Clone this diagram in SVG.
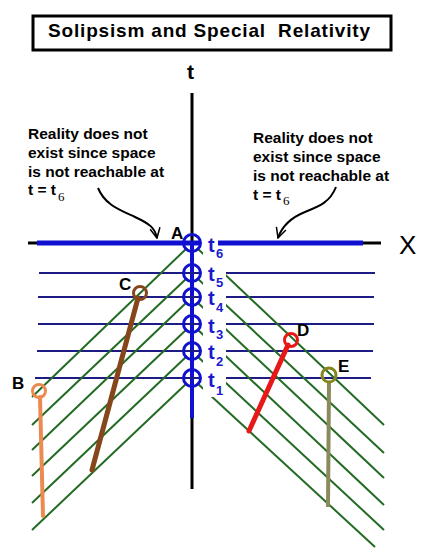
<svg xmlns="http://www.w3.org/2000/svg" width="427" height="555" viewBox="0 0 427 555">
<style>
text{font-family:"Liberation Sans",Arial,sans-serif}
.ann{font-size:15.5px;font-weight:bold;fill:#000}
.sub6{font-family:"Liberation Serif","Times New Roman",serif;font-size:13px;fill:#000}
.tl{font-size:20px;font-weight:bold;fill:#1a1acc}
.ts{font-size:13px;font-weight:bold;fill:#1a1acc}
.ev{font-size:17px;font-weight:bold;fill:#000}
.grid{stroke:#1c1c84;stroke-width:2;fill:none}
.cone{stroke:#236b23;stroke-width:2;fill:none}
.tc{stroke:#1010d0;stroke-width:3;fill:none}
.wb{fill:#fff;stroke:none}
</style>
<defs>
<marker id="v" viewBox="0 0 12 12" refX="11" refY="6" markerWidth="12" markerHeight="12" markerUnits="userSpaceOnUse" orient="auto">
<path d="M1,1 L11,6 L1,11" fill="none" stroke="#000" stroke-width="1.5"/>
</marker>
</defs>
<rect width="427" height="555" fill="#fff"/>
<g id="title">
<rect x="33" y="16" width="358" height="34" fill="#fff" stroke="#000" stroke-width="3"/>
<text x="48" y="37" font-size="19" font-weight="bold" textLength="322" lengthAdjust="spacing" xml:space="preserve">Solipsism and Special  Relativity</text>
</g>
<g id="axes">
<line x1="192" y1="93" x2="192" y2="243" stroke="#000" stroke-width="3"/>
<line x1="192" y1="243" x2="192" y2="418" stroke="#1010d0" stroke-width="4"/>
<line x1="192" y1="418" x2="192" y2="489" stroke="#000" stroke-width="3"/>
<line x1="28" y1="243" x2="37" y2="243" stroke="#000" stroke-width="3"/>
<line x1="37" y1="243" x2="200" y2="243" stroke="#1010d0" stroke-width="5"/>
<line x1="363" y1="243" x2="381" y2="243" stroke="#000" stroke-width="3"/>
<text x="187" y="79" font-size="21" font-weight="bold">t</text>
<text x="399" y="254" font-size="26">X</text>
</g>
<g id="time-lines">
<line class="grid" x1="39" y1="273" x2="200" y2="273"/>
<line class="grid" x1="38" y1="297" x2="200" y2="297"/>
<line class="grid" x1="38" y1="324" x2="200" y2="324"/>
<line class="grid" x1="37" y1="351" x2="200" y2="351"/>
<line class="grid" x1="35" y1="378" x2="200" y2="378"/>
<line class="grid" x1="226" y1="273" x2="375" y2="273"/>
<line class="grid" x1="226" y1="297" x2="374" y2="297"/>
<line class="grid" x1="226" y1="324" x2="374" y2="324"/>
<line class="grid" x1="226" y1="351" x2="373" y2="351"/>
<line class="grid" x1="226" y1="378" x2="371" y2="378"/>
</g>
<g id="connectors">
<line class="cone" x1="187" y1="248" x2="32" y2="397"/>
<line class="cone" x1="187" y1="278" x2="32" y2="425"/>
<line class="cone" x1="187" y1="302" x2="32" y2="450"/>
<line class="cone" x1="187" y1="329" x2="32" y2="476"/>
<line class="cone" x1="187" y1="356" x2="32" y2="503"/>
<line class="cone" x1="187" y1="383" x2="32" y2="530"/>
<line class="cone" x1="197" y1="248" x2="384" y2="425"/>
<line class="cone" x1="197" y1="278" x2="384" y2="453"/>
<line class="cone" x1="197" y1="302" x2="384" y2="478"/>
<line class="cone" x1="197" y1="329" x2="384" y2="505"/>
<line class="cone" x1="197" y1="356" x2="384" y2="530"/>
<line class="cone" x1="197" y1="383" x2="375" y2="547"/>
<line x1="138" y1="298" x2="92" y2="470" stroke="#84461a" stroke-width="5" stroke-linecap="round"/>
<line x1="40" y1="397" x2="43" y2="516" stroke="#ec8a50" stroke-width="4" stroke-linecap="round"/>
<line x1="288" y1="345" x2="249" y2="431" stroke="#e81818" stroke-width="5" stroke-linecap="round"/>
<line x1="329" y1="382" x2="328" y2="507" stroke="#8a8a5a" stroke-width="4"/>
<path d="M98,188 C105,205 120,210 135,217 S155,228 157,238" fill="none" stroke="#000" stroke-width="2" marker-end="url(#v)"/>
<path d="M336,187 C330,202 320,206 305,212 S282,226 278,238" fill="none" stroke="#000" stroke-width="2" marker-end="url(#v)"/>
</g>
<g id="x-axis-right">
<line x1="218" y1="243" x2="363" y2="243" stroke="#1010d0" stroke-width="5"/>
</g>
<g id="t6">
<rect class="wb" x="203" y="246" width="22" height="20"/>
<circle class="tc" cx="192" cy="243" r="8.5"/>
<text class="tl" x="208" y="252">t</text><text class="ts" x="216" y="258">6</text>
</g>
<g id="t5">
<rect class="wb" x="203" y="265" width="23" height="26"/>
<circle class="tc" cx="192" cy="273" r="8.5"/>
<text class="tl" x="208" y="281">t</text><text class="ts" x="216" y="287">5</text>
</g>
<g id="t4">
<rect class="wb" x="203" y="289" width="23" height="27"/>
<circle class="tc" cx="192" cy="297" r="8.5"/>
<text class="tl" x="208" y="305">t</text><text class="ts" x="216" y="312">4</text>
</g>
<g id="t3">
<rect class="wb" x="203" y="316" width="23" height="27"/>
<circle class="tc" cx="192" cy="324" r="8.5"/>
<text class="tl" x="208" y="333">t</text><text class="ts" x="216" y="339">3</text>
</g>
<g id="t2">
<rect class="wb" x="203" y="343" width="23" height="27"/>
<circle class="tc" cx="192" cy="351" r="8.5"/>
<text class="tl" x="208" y="359">t</text><text class="ts" x="216" y="366">2</text>
</g>
<g id="t1">
<rect class="wb" x="203" y="370" width="23" height="27"/>
<circle class="tc" cx="192" cy="378" r="8.5"/>
<text class="tl" x="208" y="387">t</text><text class="ts" x="216" y="395">1</text>
</g>
<g id="A"><text class="ev" x="171" y="239">A</text></g>
<g id="B">
<circle cx="39" cy="391" r="6.5" fill="none" stroke="#ec8a50" stroke-width="3"/>
<text class="ev" x="12" y="389">B</text>
</g>
<g id="C">
<circle cx="140" cy="293" r="6.5" fill="none" stroke="#84461a" stroke-width="3"/>
<text class="ev" x="119" y="290">C</text>
</g>
<g id="D">
<circle cx="291" cy="340" r="6.5" fill="none" stroke="#e81818" stroke-width="3"/>
<text class="ev" x="297" y="336">D</text>
</g>
<g id="E">
<circle cx="329" cy="375" r="7" fill="none" stroke="#86861e" stroke-width="3"/>
<text class="ev" x="338" y="372">E</text>
</g>
<g id="note-left">
<text class="ann" x="28" y="139">Reality does not</text>
<text class="ann" x="28" y="158">exist since space</text>
<text class="ann" x="28" y="177">is not reachable at</text>
<text class="ann" x="28" y="195" xml:space="preserve">t = t</text>
<text class="sub6" x="58" y="201">6</text>
</g>
<g id="note-right">
<text class="ann" x="253" y="143">Reality does not</text>
<text class="ann" x="253" y="162">exist since space</text>
<text class="ann" x="253" y="181">is not reachable at</text>
<text class="ann" x="253" y="200" xml:space="preserve">t = t</text>
<text class="sub6" x="283" y="205">6</text>
</g>
</svg>
